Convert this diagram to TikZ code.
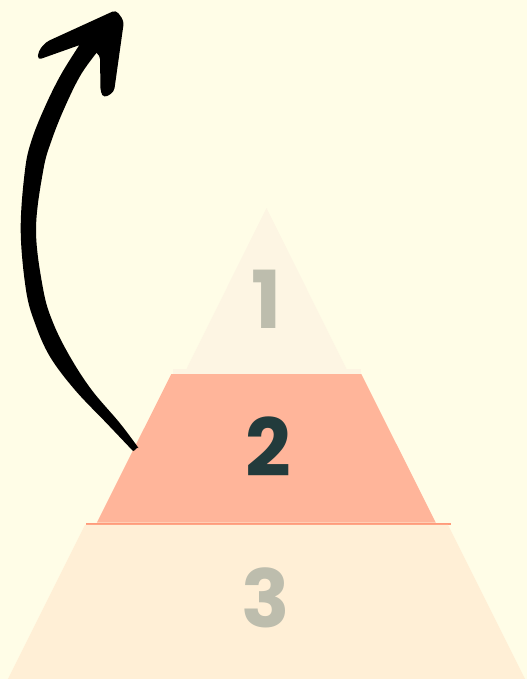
\documentclass[tikz,border=0pt]{standalone}
\usepackage{fontspec}
\setmainfont{Poppins}
\usepackage{xcolor}
\usepackage{tikz}
\usetikzlibrary{
  positioning,
}
\definecolor{pagebg}{HTML}{FFFDE7}
\definecolor{tierone}{HTML}{FDF5E3}
\definecolor{tiertwo}{HTML}{FFB59A}
\definecolor{tierline}{HTML}{FF9B7B}
\definecolor{tierthree}{HTML}{FFEFD6}
\definecolor{numgray}{HTML}{BDBDAD}
\definecolor{numdark}{HTML}{223B3C}
\definecolor{ink}{HTML}{000000}
\tikzset{
  tiernum/.style={
    font=\fontsize{80}{80}\selectfont\bfseries,
    inner sep=0pt,
    anchor=center,
    text=#1,
  },
}

\begin{document}
\begin{tikzpicture}[x=1pt,y=-1pt]
  \fill[pagebg] (0,0) rectangle (527,679);
  \useasboundingbox (0,0) rectangle (527,679);

  % 1 top
  \fill[tierone] (266.5,208) -- (346.5,369) -- (186.5,369) -- cycle;
  \fill[tierone] (172.5,369) rectangle (360.5,374);
  \node[tiernum=numgray] (one) at (266.5,299) {1};

  % 2 middle
  \fill[tiertwo] (171.3,374) -- (361.3,374) -- (435.8,522.7) -- (96.8,522.7) -- cycle;
  \fill[tierline] (86,522.5) rectangle (450.5,524.8);
  \node[tiernum=numdark] (two) at (268.8,446.5) {2};

  % 3 bottom
  \fill[tierthree] (85,524.8) -- (448,524.8) -- (525.1,679) -- (7.9,679) -- cycle;
  \node[tiernum=numgray] (three) at (265.5,597.5) {3};

  % arrow, drawn by hand: outer edge up, inner edge down
  \fill[ink]
    plot[smooth, tension=0.6] coordinates {
      (133,451) (106.7,423.3) (75,390) (50,356.7) (35,323.3) (26,290)
      (20.7,230) (25,170) (31.7,140) (45,106.7) (61.7,73.3) (84,38)
    }
    -- plot[smooth, tension=0.6] coordinates {
      (102,46) (81.7,73.3) (65,106.7) (51.7,140) (43.3,170) (36,230)
      (43.3,290) (53.3,323.3) (70,356.7) (91.7,390) (120,423.3) (138.5,448)
    }
    to[out=120, in=0] (133,451) -- cycle;
  \fill[ink, rounded corners=4pt]
    (116,10) -- (124,21) -- (114,92) -- (104,98) -- (100.5,92)
    -- (100,55) -- (81.7,44.3) -- (37.5,60) -- (38.5,51) -- (46,42) -- cycle;
\end{tikzpicture}
\end{document}
